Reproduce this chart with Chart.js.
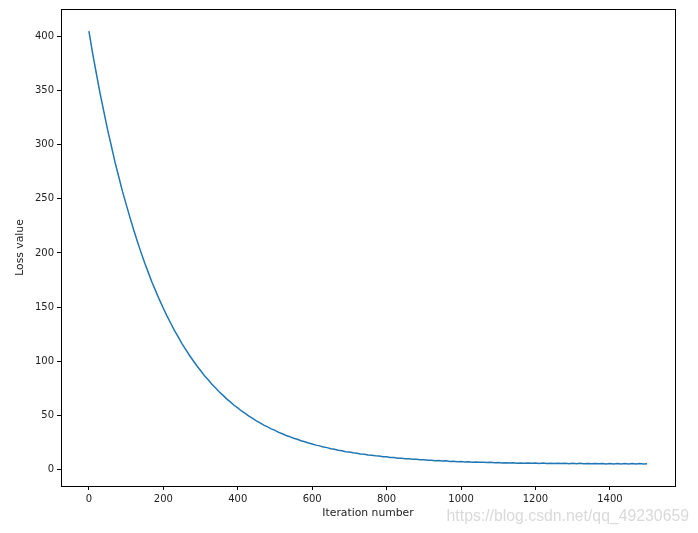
<!DOCTYPE html>
<html>
<head>
<meta charset="utf-8">
<script src="https://cdn.jsdelivr.net/npm/chart.js@4"></script>
<style>
html,body{margin:0;padding:0;background:#fff;}
canvas{display:block;}
</style>
</head>
<body>
<canvas id="c" width="698" height="533"></canvas>
<script>
const iterations = [
  0,10,20,30,40,50,60,70,80,90,
  100,110,120,130,140,150,160,170,180,190,
  200,210,220,230,240,250,260,270,280,290,
  300,310,320,330,340,350,360,370,380,390,
  400,410,420,430,440,450,460,470,480,490,
  500,510,520,530,540,550,560,570,580,590,
  600,610,620,630,640,650,660,670,680,690,
  700,710,720,730,740,750,760,770,780,790,
  800,810,820,830,840,850,860,870,880,890,
  900,910,920,930,940,950,960,970,980,990,
  1000,1010,1020,1030,1040,1050,1060,1070,1080,1090,
  1100,1110,1120,1130,1140,1150,1160,1170,1180,1190,
  1200,1210,1220,1230,1240,1250,1260,1270,1280,1290,
  1300,1310,1320,1330,1340,1350,1360,1370,1380,1390,
  1400,1410,1420,1430,1440,1450,1460,1470,1480,1490,
  1500
];
const lossValues = [
  404.5,384.0,365.5,347.2,330.6,314.0,299.1,284.0,270.5,257.0,
  245.0,233.0,221.6,210.8,200.5,190.6,181.6,172.5,164.5,156.4,
  149.0,141.7,135.1,128.4,122.5,116.4,111.1,105.6,100.8,95.9,
  91.5,87.0,83.2,79.1,75.6,72.0,68.8,65.4,62.6,59.5,
  57.0,54.2,52.0,49.4,47.4,45.1,43.3,41.2,39.6,37.7,
  36.3,34.5,33.2,31.6,30.5,29.1,28.1,26.7,25.8,24.6,
  23.8,22.7,22.0,21.0,20.4,19.4,18.9,18.0,17.6,16.7,
  16.4,15.6,15.3,14.6,14.3,13.6,13.4,12.8,12.6,12.0,
  11.9,11.3,11.2,10.7,10.6,10.1,10.1,9.6,9.6,9.2,
  9.2,8.8,8.8,8.4,8.5,8.0,8.2,7.7,7.9,7.4,
  7.6,7.2,7.4,7.0,7.2,6.8,7.0,6.6,6.8,6.5,
  6.7,6.3,6.5,6.2,6.4,6.1,6.3,6.0,6.2,5.9,
  6.2,5.8,6.1,5.8,6.0,5.7,6.0,5.7,5.9,5.6,
  5.9,5.6,5.9,5.5,5.8,5.5,5.8,5.5,5.8,5.4,
  5.7,5.4,5.7,5.4,5.7,5.4,5.7,5.4,5.7,5.4,
  5.6
];
const xTicks = [0,200,400,600,800,1000,1200,1400];
const yTicks = [0,50,100,150,200,250,300,350,400];
const xLabel = 'Iteration number';
const yLabel = 'Loss value';
const watermark = 'https://blog.csdn.net/qq_49230659';

const points = iterations.map((x, i) => ({x: x, y: lossValues[i]}));

const framePlugin = {
  id: 'frame',
  afterDraw(chart) {
    const ctx = chart.ctx, a = chart.chartArea;
    ctx.save();
    ctx.strokeStyle = '#000';
    ctx.lineWidth = 1;
    ctx.strokeRect(Math.round(a.left) + 0.5, Math.round(a.top) + 0.5,
                   Math.round(a.right - a.left), Math.round(a.bottom - a.top));
    ctx.font = '15.8px "Liberation Sans", Arial, sans-serif';
    ctx.fillStyle = 'rgba(210,210,210,0.85)';
    ctx.textAlign = 'right';
    ctx.textBaseline = 'alphabetic';
    ctx.fillText(watermark, 689, 521);
    ctx.restore();
  }
};

const tickFont = {family: '"DejaVu Sans", sans-serif', size: 10};
const titleFont = {family: '"DejaVu Sans", sans-serif', size: 10.8};

new Chart(document.getElementById('c'), {
  type: 'line',
  data: {
    datasets: [{
      data: points,
      borderColor: '#1f77b4',
      borderWidth: 1.5,
      pointRadius: 0,
      fill: false,
      tension: 0
    }]
  },
  options: {
    responsive: false,
    animation: false,
    devicePixelRatio: 1,
    layout: {padding: {left: 0, right: 23, top: 8, bottom: 0}},
    plugins: {legend: {display: false}, tooltip: {enabled: false}},
    scales: {
      x: {
        type: 'linear',
        min: -75, max: 1575,
        afterBuildTicks: s => { s.ticks = xTicks.map(v => ({value: v})); },
        afterFit: s => { s.height = 47; },
        grid: {display: true, drawOnChartArea: false, drawTicks: true, tickLength: 4, color: '#000'},
        border: {display: false},
        ticks: {font: tickFont, color: '#222', padding: 3, maxRotation: 0, autoSkip: false,
                callback: v => String(v)},
        title: {display: true, text: xLabel, font: titleFont, color: '#222', padding: {top: 0, bottom: 13}}
      },
      y: {
        type: 'linear',
        min: -15, max: 425,
        afterBuildTicks: s => { s.ticks = yTicks.map(v => ({value: v})); },
        afterFit: s => { s.width = 61; },
        grid: {display: true, drawOnChartArea: false, drawTicks: true, tickLength: 4, color: '#000'},
        border: {display: false},
        ticks: {font: tickFont, color: '#222', padding: 3, autoSkip: false,
                callback: v => String(v)},
        title: {display: true, text: yLabel, font: titleFont, color: '#222', padding: {top: 14, bottom: 0}}
      }
    }
  },
  plugins: [framePlugin]
});
</script>
</body>
</html>
